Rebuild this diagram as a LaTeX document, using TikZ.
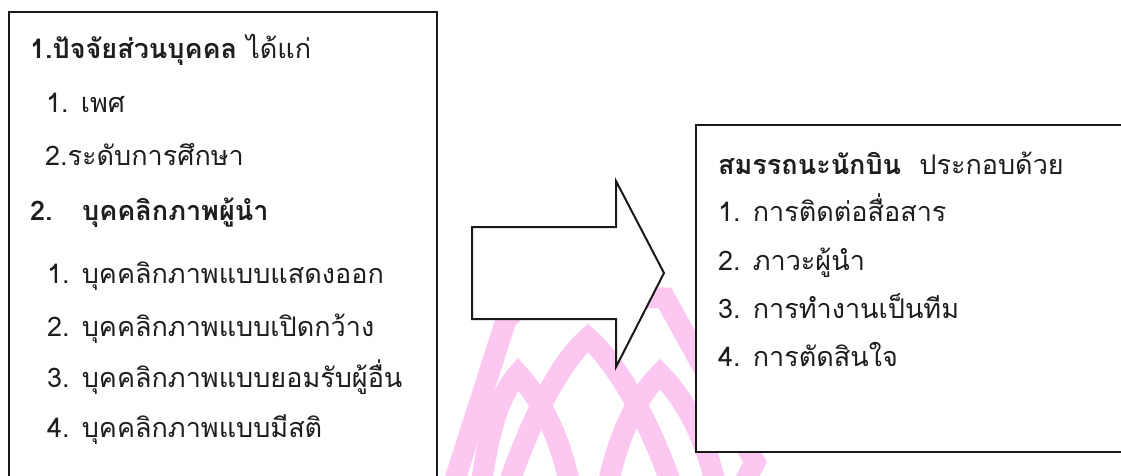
\documentclass[tikz,border=0pt]{standalone}
\usepackage{fontspec}
\setmainfont[Script=Thai]{Loma}
\definecolor{wm}{RGB}{252,200,242}
\definecolor{ln}{RGB}{25,25,25}
\definecolor{tx}{RGB}{30,30,30}
\tikzset{
  box/.style={draw=ln, line width=2pt, fill=white},
  petal/.style={draw=wm, line width=21pt, line join=miter},
  txt/.style={anchor=base west, inner sep=0pt, text=tx, font=\fontsize{27}{32}\selectfont},
}
\begin{document}
\begin{tikzpicture}[x=1pt,y=-1pt]
\useasboundingbox (0,0) rectangle (1121,475);
\fill[white] (0,0) rectangle (1121,475);
% watermark
\begin{scope}
\clip (0,0) rectangle (1121,475);
\draw[petal] (450,495) -- (506,320) .. controls (525,300) and (540,297) .. (560,297) -- (665,298) -- (755,462) -- (738,495);
\draw[petal] (505,495) .. controls (530,420) and (560,362) .. (588,338) .. controls (616,362) and (650,420) .. (675,495);
\draw[petal] (480,495) .. controls (488,430) and (500,394) .. (518,374) .. controls (536,394) and (560,430) .. (572,495);
\draw[petal] (606,495) .. controls (618,430) and (640,394) .. (660,374) .. controls (680,394) and (705,430) .. (718,495);
\end{scope}
% boxes
\draw[box] (9,12) rectangle (437,500);
\draw[box] (696,125) rectangle (1130,452);
\draw[box, line join=miter] (472,227) -- (616,227) -- (616,181) -- (664,273) -- (616,367) -- (616,319) -- (472,319) -- cycle;
% left text
\node[txt] (l1) at (30,58) {\textbf{1.ปัจจัยส่วนบุคคล} ได้แก่};
\node[txt] (l2) at (46,112) {1. เพศ};
\node[txt] (l3) at (45,165) {2.ระดับการศึกษา};
\node[txt] (l4) at (30,220) {\textbf{2.}};
\node[txt] (l4b) at (82,220) {\textbf{บุคคลิกภาพผู้นำ}};
\node[txt] (l5) at (47,283) {1. บุคคลิกภาพแบบแสดงออก};
\node[txt] (l6) at (47,336) {2. บุคคลิกภาพแบบเปิดกว้าง};
\node[txt] (l7) at (47,387) {3. บุคคลิกภาพแบบยอมรับผู้อื่น};
\node[txt] (l8) at (47,437) {4. บุคคลิกภาพแบบมีสติ};
% right text
\node[txt] (r0) at (718,174) {\textbf{สมรรถนะนักบิน}\ \ ประกอบด้วย};
\node[txt] (r1) at (718,221) {1. การติดต่อสื่อสาร};
\node[txt] (r2) at (718,270) {2. ภาวะผู้นำ};
\node[txt] (r3) at (718,318) {3. การทำงานเป็นทีม};
\node[txt] (r4) at (718,366) {4. การตัดสินใจ};
\end{tikzpicture}
\end{document}
